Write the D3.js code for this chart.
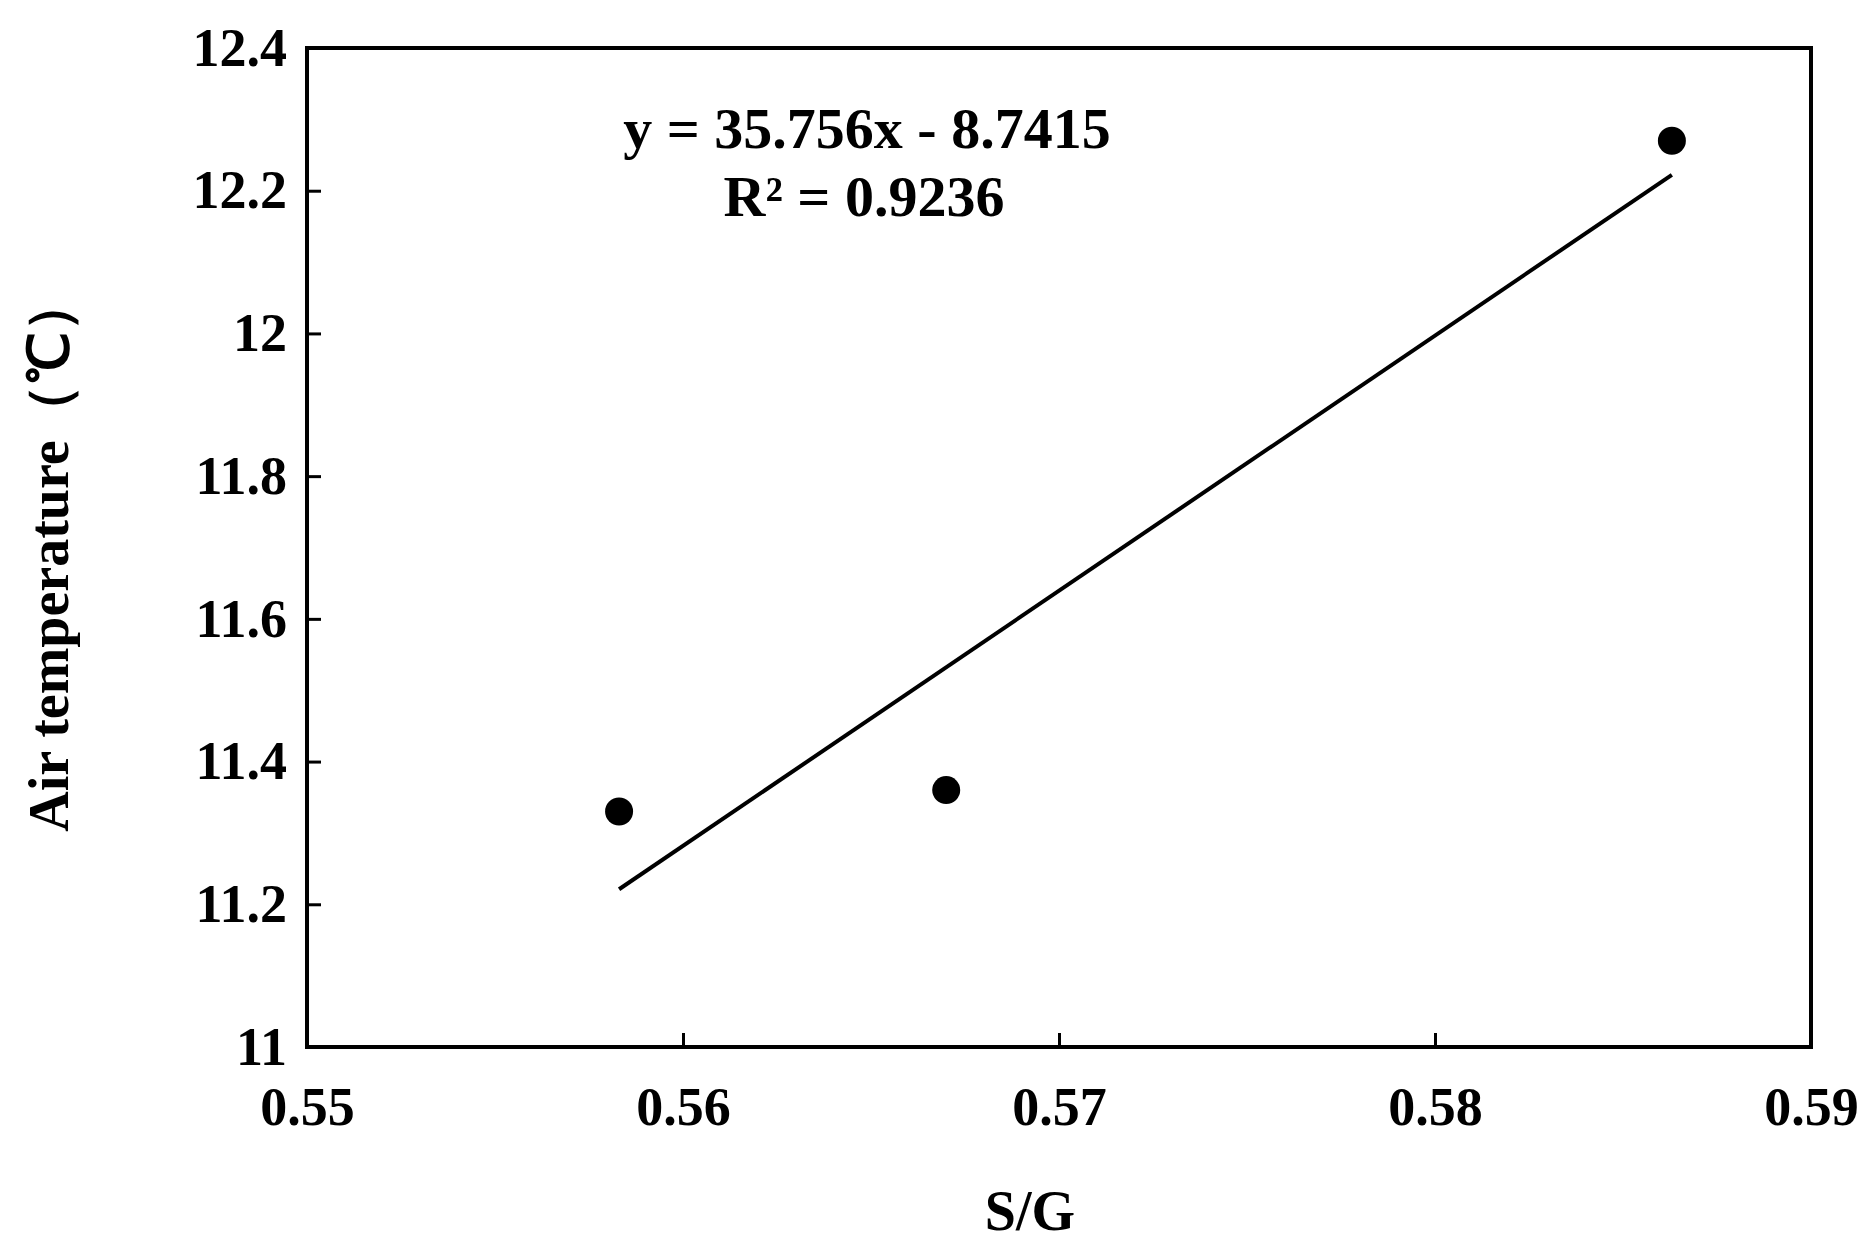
<!DOCTYPE html>
<html><head><meta charset="utf-8">
<script src="https://cdn.jsdelivr.net/npm/d3@7"></script>
<style>body{margin:0;background:#fff}text{font-family:"Liberation Serif","Times New Roman",serif;font-weight:bold;fill:#000}</style>
</head><body><div class="chart"></div>
<script>
// data
var sgValues = [0.5583, 0.567, 0.5863];
var tempValues = [11.33, 11.36, 12.27];
var xTicks = [0.55, 0.56, 0.57, 0.58, 0.59];
var yTicks = [11, 11.2, 11.4, 11.6, 11.8, 12, 12.2, 12.4];
var slope = 35.756, intercept = -8.7415;

var svgWidth = 1869, svgHeight = 1250;
var margin = {top: 48, right: 58, bottom: 203, left: 307};
var width = svgWidth - margin.left - margin.right;
var height = svgHeight - margin.top - margin.bottom;

var svg = d3.select(".chart").append("svg")
  .attr("width", svgWidth).attr("height", svgHeight);
var chartGroup = svg.append("g")
  .attr("transform", `translate(${margin.left}, ${margin.top})`);

var x = d3.scaleLinear().domain([0.55, 0.59]).range([0, width]);
var y = d3.scaleLinear().domain([11, 12.4]).range([height, 0]);

// frame
chartGroup.append("rect").attr("width", width).attr("height", height)
  .attr("fill", "none").attr("stroke", "#000").attr("stroke-width", 4);

var bottomAxis = d3.axisBottom(x).tickValues(xTicks).tickSize(-14).tickPadding(40)
  .tickFormat(d3.format(".2f"));
var leftAxis = d3.axisLeft(y).tickValues(yTicks).tickSize(-14).tickPadding(20)
  .tickFormat(d => d3.format("")(+d.toFixed(1)));

function styleAxis(g) {
  g.select(".domain").remove();
  g.selectAll("line").attr("stroke", "#000").attr("stroke-width", 3);
  g.selectAll("text").attr("font-size", 54).attr("font-family", null);
}
chartGroup.append("g").attr("transform", `translate(0,${height})`).call(bottomAxis).call(styleAxis);
chartGroup.append("g").call(leftAxis).call(styleAxis);

// trend line
var xr = d3.extent(sgValues);
chartGroup.append("line")
  .attr("x1", x(xr[0])).attr("y1", y(slope * xr[0] + intercept))
  .attr("x2", x(xr[1])).attr("y2", y(slope * xr[1] + intercept))
  .attr("stroke", "#000").attr("stroke-width", 4);

// points
chartGroup.selectAll("circle").data(sgValues).enter().append("circle")
  .attr("cx", d => x(d)).attr("cy", (d, i) => y(tempValues[i]))
  .attr("r", 14).attr("fill", "#000");

// equation
chartGroup.append("text").attr("x", 867 - margin.left).attr("y", 148 - margin.top)
  .attr("text-anchor", "middle").attr("font-size", 58).text("y = 35.756x - 8.7415");
chartGroup.append("text").attr("x", 864 - margin.left).attr("y", 216 - margin.top)
  .attr("text-anchor", "middle").attr("font-size", 58).text("R² = 0.9236");

// axis titles
svg.append("text").attr("x", 1030).attr("y", 1230)
  .attr("text-anchor", "middle").attr("font-size", 56).text("S/G");
svg.append("text").attr("transform", "translate(68,554) rotate(-90)")
  .attr("text-anchor", "middle").attr("font-size", 56).text("Air temperature（℃）");
</script></body></html>
